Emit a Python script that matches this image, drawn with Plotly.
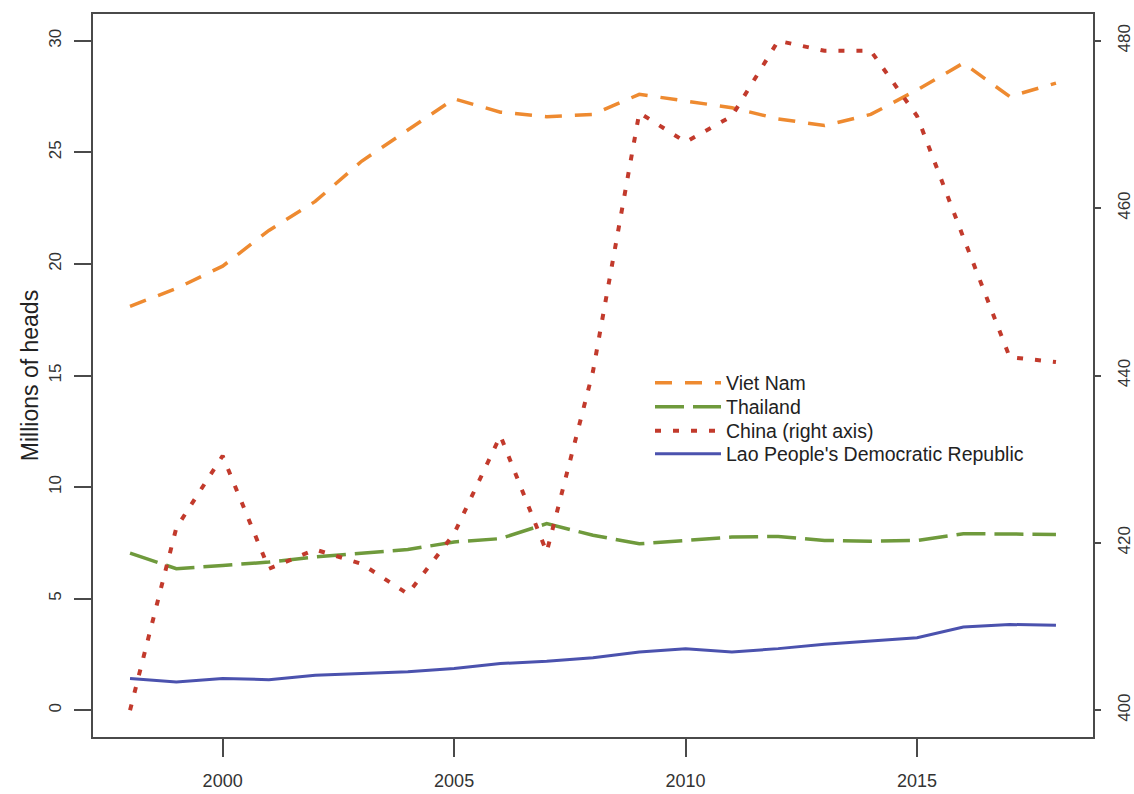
import plotly.graph_objects as go

years = list(range(1998, 2019))

viet_nam = [18.1, 18.9, 19.9, 21.5, 22.8, 24.6, 26.0, 27.4, 26.8, 26.6, 26.7,
            27.6, 27.3, 27.0, 26.5, 26.2, 26.7, 27.8, 29.0, 27.5, 28.1]
thailand = [7.04, 6.34, 6.49, 6.64, 6.87, 7.02, 7.2, 7.54, 7.69, 8.36, 7.84,
            7.46, 7.61, 7.76, 7.79, 7.61, 7.57, 7.61, 7.91, 7.88, 7.88]
china = [400.0, 421.8, 430.4, 416.9, 419.2, 417.5, 413.9, 421.1, 432.8, 418.9, 440.5,
         471.4, 467.9, 471.0, 480.0, 478.8, 478.8, 471.0, 456.5, 442.2, 441.6]
lao = [1.42, 1.27, 1.42, 1.37, 1.57, 1.64, 1.72, 1.87, 2.09, 2.19, 2.35,
       2.61, 2.76, 2.61, 2.76, 2.96, 3.1, 3.25, 3.73, 3.84, 3.81]

x_ticks = [2000, 2005, 2010, 2015]
left_ticks = [0, 5, 10, 15, 20, 25, 30]
right_ticks = [400, 420, 440, 460, 480]

FONT = "Liberation Sans, Arial, sans-serif"
FRAME = "#4a4a4a"
TXT = "#333333"

fig = go.Figure()
fig.add_trace(go.Scatter(x=years, y=viet_nam, name="Viet Nam", mode="lines",
                         legend="legend",
                         line=dict(color="#EE8A30", width=3.5, dash="17px,13px")))
fig.add_trace(go.Scatter(x=years, y=thailand, name="Thailand", mode="lines",
                         legend="legend2",
                         line=dict(color="#6F9A3C", width=3.5, dash="29px,9px")))
fig.add_trace(go.Scatter(x=years, y=china, name="China (right axis)", mode="lines",
                         yaxis="y2", legend="legend3",
                         line=dict(color="#C23A2C", width=4, dash="6px,12px")))
fig.add_trace(go.Scatter(x=years, y=lao, name="Lao People's Democratic Republic",
                         mode="lines", legend="legend4",
                         line=dict(color="#4B52AE", width=3)))

W, H = 1134, 794
ML, MR, MT, MB = 93, 41, 14, 57
plot_h = H - MT - MB


def leg(row_center_y):
    return dict(x=0.557, y=(H - MB - row_center_y) / plot_h, xanchor="left",
                yanchor="middle", bgcolor="rgba(0,0,0,0)",
                font=dict(size=19.5, color="#222222"), itemwidth=66)


legend_rows = [383, 407, 431, 454]

fig.update_layout(
    width=W, height=H,
    margin=dict(l=ML, r=MR, t=MT, b=MB, autoexpand=False),
    paper_bgcolor="white", plot_bgcolor="white",
    font=dict(family=FONT, color=TXT),
    hovermode=False,
    showlegend=True,
    legend=leg(legend_rows[0]),
    legend2=leg(legend_rows[1]),
    legend3=leg(legend_rows[2]),
    legend4=leg(legend_rows[3]),
    xaxis=dict(range=[1997.2, 2018.8], tickvals=x_ticks, ticks="outside",
               ticklen=18, tickwidth=2, tickcolor=FRAME, showgrid=False,
               zeroline=False, showline=True, linecolor=FRAME, linewidth=2,
               mirror=True, tickfont=dict(size=18, color=TXT),
               ticklabelstandoff=8, automargin=False),
    yaxis=dict(range=[-1.2, 31.2], tickvals=left_ticks, ticks="outside",
               ticklen=17, tickwidth=2, tickcolor=FRAME, showgrid=False,
               zeroline=False, showline=True, linecolor=FRAME, linewidth=2,
               mirror=True, tickangle=-90, tickfont=dict(size=17, color=TXT),
               ticklabelstandoff=6, automargin=False,
               title=dict(text="Millions of heads", font=dict(size=23, color="#222222"),
                          standoff=1)),
    yaxis2=dict(range=[396.8, 483.2], tickvals=right_ticks, overlaying="y",
                side="right", ticks="outside", ticklen=7, tickwidth=2,
                tickcolor=FRAME, showgrid=False, zeroline=False, showline=False,
                tickangle=-90, tickfont=dict(size=17, color=TXT),
                ticklabelstandoff=9, automargin=False),
)

fig.write_html(
    "out.html",
    config={"displayModeBar": False},
    post_script="document.body.style.margin='0';"
                "document.documentElement.style.overflow='hidden';",
)
